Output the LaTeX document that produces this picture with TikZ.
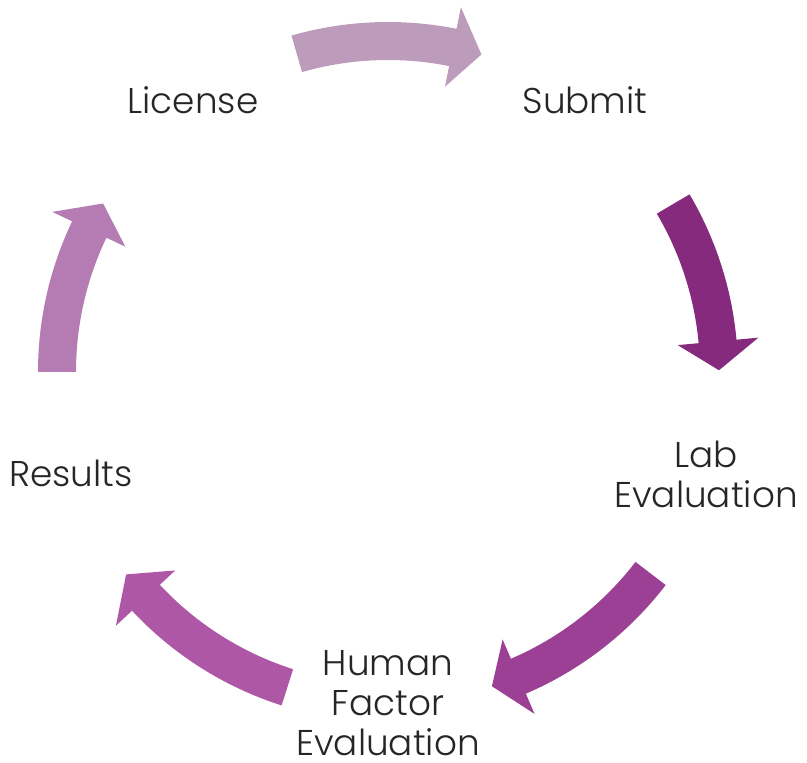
\documentclass[tikz,border=0pt]{standalone}
\usepackage{fontspec}
\setmainfont{Poppins Light}
\definecolor{cA}{RGB}{188,155,187}
\definecolor{cB}{RGB}{134,42,126}
\definecolor{cC}{RGB}{155,64,148}
\definecolor{cD}{RGB}{174,87,166}
\definecolor{cE}{RGB}{180,124,178}
\definecolor{txt}{RGB}{38,38,38}
% #1 colour, #2 tail angle, #3 head base angle, #4 tip angle
\newcommand\cycarrow[4]{%
  \fill[#1] (#2:312pt) arc[start angle=#2, end angle=#3, radius=312pt]
    -- (#3:291pt) -- (#4:331pt) -- (#3:372pt) -- (#3:350pt)
    arc[start angle=#3, end angle=#2, radius=350pt] -- cycle;}
\begin{document}
\begin{tikzpicture}[x=1pt,y=1pt,
  lbl/.style={align=center, inner sep=0pt, text=txt,
    font=\fontsize{35.8}{40}\selectfont}]
\useasboundingbox (-388,-391) rectangle (419,372);
\cycarrow{cA}{106}{78.7}{73.6}
\cycarrow{cB}{30.5}{5.3}{0.3}
\cycarrow{cC}{-37.5}{-66.8}{-71.7}
\cycarrow{cD}{-107.7}{-137}{-142.3}
\cycarrow{cE}{180}{154.5}{149.4}
\node[lbl] (license) at (-195,272) {License};
\node[lbl] (submit) at (197,272) {Submit};
\node[lbl] (lab) at (318,-102) {Lab\\Evaluation};
\node[lbl] (human) at (0,-331) {Human\\Factor\\Evaluation};
\node[lbl] (results) at (-317,-101) {Results};
\end{tikzpicture}
\end{document}
